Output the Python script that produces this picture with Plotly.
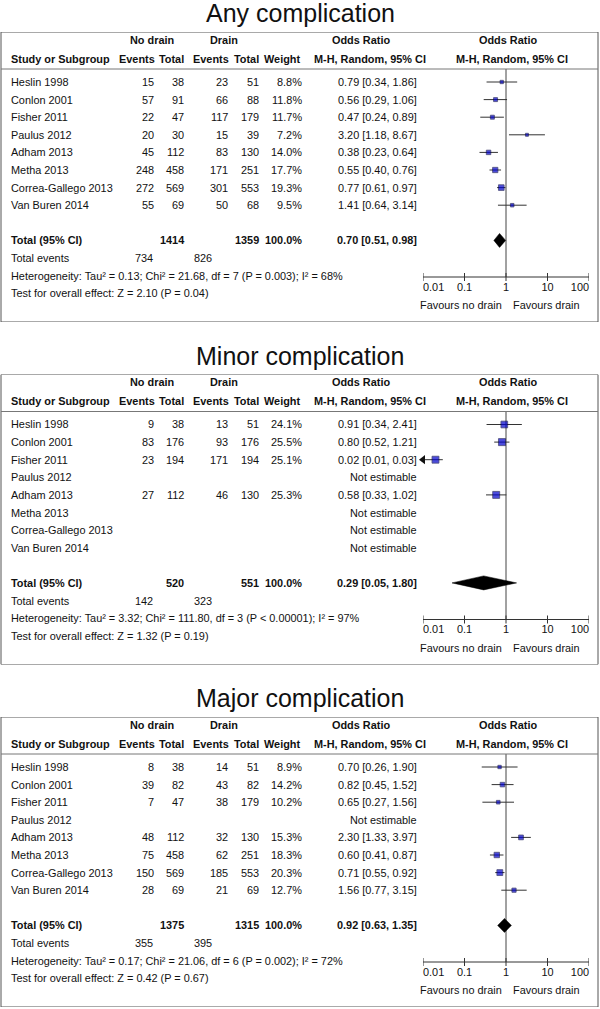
import plotly.graph_objects as go

W, H = 600, 1009

# ---------------- data ----------------
studies = ["Heslin 1998", "Conlon 2001", "Fisher 2011", "Paulus 2012",
           "Adham 2013", "Metha 2013", "Correa-Gallego 2013", "Van Buren 2014"]
titles = ["Any complication", "Minor complication", "Major complication"]

any_nd_events = [15, 57, 22, 20, 45, 248, 272, 55]
any_nd_total = [38, 91, 47, 30, 112, 458, 569, 69]
any_d_events = [23, 66, 117, 15, 83, 171, 301, 50]
any_d_total = [51, 88, 179, 39, 130, 251, 553, 68]
any_weight = [8.8, 11.8, 11.7, 7.2, 14.0, 17.7, 19.3, 9.5]
any_or = [0.79, 0.56, 0.47, 3.20, 0.38, 0.55, 0.77, 1.41]
any_lo = [0.34, 0.29, 0.24, 1.18, 0.23, 0.40, 0.61, 0.64]
any_hi = [1.86, 1.06, 0.89, 8.67, 0.64, 0.76, 0.97, 3.14]

minor_nd_events = [9, 83, 23, None, 27, None, None, None]
minor_nd_total = [38, 176, 194, None, 112, None, None, None]
minor_d_events = [13, 93, 171, None, 46, None, None, None]
minor_d_total = [51, 176, 194, None, 130, None, None, None]
minor_weight = [24.1, 25.5, 25.1, None, 25.3, None, None, None]
minor_or = [0.91, 0.80, 0.02, None, 0.58, None, None, None]
minor_lo = [0.34, 0.52, 0.01, None, 0.33, None, None, None]
minor_hi = [2.41, 1.21, 0.03, None, 1.02, None, None, None]

major_nd_events = [8, 39, 7, None, 48, 75, 150, 28]
major_nd_total = [38, 82, 47, None, 112, 458, 569, 69]
major_d_events = [14, 43, 38, None, 32, 62, 185, 21]
major_d_total = [51, 82, 179, None, 130, 251, 553, 69]
major_weight = [8.9, 14.2, 10.2, None, 15.3, 18.3, 20.3, 12.7]
major_or = [0.70, 0.82, 0.65, None, 2.30, 0.60, 0.71, 1.56]
major_lo = [0.26, 0.45, 0.27, None, 1.33, 0.41, 0.55, 0.77]
major_hi = [1.90, 1.52, 1.56, None, 3.97, 0.87, 0.92, 3.15]

pooled_or = [0.70, 0.29, 0.92]
pooled_lo = [0.51, 0.05, 0.63]
pooled_hi = [0.98, 1.80, 1.35]

heterogeneity = [
    "Heterogeneity: Tau² = 0.13; Chi² = 21.68, df = 7 (P = 0.003); I² = 68%",
    "Heterogeneity: Tau² = 3.32; Chi² = 111.80, df = 3 (P < 0.00001); I² = 97%",
    "Heterogeneity: Tau² = 0.17; Chi² = 21.06, df = 6 (P = 0.002); I² = 72%",
]
overall = [
    "Test for overall effect: Z = 2.10 (P = 0.04)",
    "Test for overall effect: Z = 1.32 (P = 0.19)",
    "Test for overall effect: Z = 0.42 (P = 0.67)",
]

tick_vals = [0.01, 0.1, 1, 10, 100]
tick_labels = ["0.01", "0.1", "1", "10", "100"]

panels = [
    dict(ne=any_nd_events, nt=any_nd_total, de=any_d_events, dt=any_d_total,
         w=any_weight, orr=any_or, lo=any_lo, hi=any_hi),
    dict(ne=minor_nd_events, nt=minor_nd_total, de=minor_d_events, dt=minor_d_total,
         w=minor_weight, orr=minor_or, lo=minor_lo, hi=minor_hi),
    dict(ne=major_nd_events, nt=major_nd_total, de=major_d_events, dt=major_d_total,
         w=major_weight, orr=major_or, lo=major_lo, hi=major_hi),
]

# ---------------- layout constants ----------------
FONT = "Liberation Sans, Arial, Helvetica, sans-serif"
FS = 10.9
ROW = 17.6
BASES = [82, 424.5, 767]
AX_MIN, AX_MAX = 0.01, 100
TXT = "#111111"
LINE = "#333333"
BORDER = "#555555"

fig = go.Figure()
annotations = []
shapes = []
layout_axes = {}


def txt(text, x, r, yref, anchor="left", bold=False, size=FS):
    annotations.append(dict(
        text=f"<b>{text}</b>" if bold else text,
        x=x / W, xref="paper", y=r, yref=yref,
        xanchor=anchor, yanchor="middle", showarrow=False,
        font=dict(family=FONT, size=size, color=TXT)))


for i, p in enumerate(panels):
    base = BASES[i]
    sfx = "" if i == 0 else str(i + 1)
    xa, ya = "x" + sfx, "y" + sfx
    top, bot = base - 50, base + 240
    layout_axes["xaxis" + sfx] = dict(type="log", range=[-2, 2],
                                      domain=[423 / W, 589 / W], anchor=ya,
                                      visible=False, fixedrange=True)
    layout_axes["yaxis" + sfx] = dict(range=[240 / ROW, -50 / ROW],
                                      domain=[1 - bot / H, 1 - top / H], anchor=xa,
                                      visible=False, fixedrange=True)

    # title (paper coordinates, above the box)
    annotations.append(dict(text=titles[i], x=0.5, xref="paper",
                            y=1 - (base - 69) / H, yref="paper",
                            xanchor="center", yanchor="middle", showarrow=False,
                            font=dict(family=FONT, size=25, color=TXT)))

    # box and header line
    shapes.append(dict(type="rect", xref="paper", yref=ya, x0=1 / W, x1=598 / W,
                       y0=-50 / ROW, y1=240 / ROW, line=dict(color=BORDER, width=1)))
    shapes.append(dict(type="line", xref="paper", yref=ya, x0=1 / W, x1=598 / W,
                       y0=-13 / ROW, y1=-13 / ROW, line=dict(color="#777777", width=1)))

    # headers
    h1, h2 = -42 / ROW, -23 / ROW
    txt("No drain", 152, h1, ya, "center", True)
    txt("Drain", 224, h1, ya, "center", True)
    txt("Odds Ratio", 361, h1, ya, "center", True)
    txt("Odds Ratio", 508, h1, ya, "center", True)
    txt("Study or Subgroup", 9, h2, ya, "left", True)
    txt("Events", 157, h2, ya, "right", True)
    txt("Total", 186, h2, ya, "right", True)
    txt("Events", 231, h2, ya, "right", True)
    txt("Total", 261, h2, ya, "right", True)
    txt("Weight", 302, h2, ya, "right", True)
    txt("M-H, Random, 95% CI", 370, h2, ya, "center", True)
    txt("M-H, Random, 95% CI", 512, h2, ya, "center", True)

    # study rows
    for k, name in enumerate(studies):
        txt(name, 9, k, ya, "left")
        if p["orr"][k] is None:
            txt("Not estimable", 419, k, ya, "right")
            continue
        txt(str(p["ne"][k]), 156, k, ya, "right")
        txt(str(p["nt"][k]), 186, k, ya, "right")
        txt(str(p["de"][k]), 230, k, ya, "right")
        txt(str(p["dt"][k]), 261, k, ya, "right")
        txt(f"{p['w'][k]:.1f}%", 304, k, ya, "right")
        txt(f"{p['orr'][k]:.2f} [{p['lo'][k]:.2f}, {p['hi'][k]:.2f}]", 419, k, ya, "right")

    # totals
    nt_sum = sum(v for v in p["nt"] if v is not None)
    dt_sum = sum(v for v in p["dt"] if v is not None)
    ne_sum = sum(v for v in p["ne"] if v is not None)
    de_sum = sum(v for v in p["de"] if v is not None)
    txt("Total (95% CI)", 9, 9, ya, "left", True)
    txt(str(nt_sum), 186, 9, ya, "right", True)
    txt(str(dt_sum), 261, 9, ya, "right", True)
    txt("100.0%", 304, 9, ya, "right", True)
    txt(f"{pooled_or[i]:.2f} [{pooled_lo[i]:.2f}, {pooled_hi[i]:.2f}]", 419, 9, ya, "right", True)
    txt("Total events", 9, 10, ya, "left")
    txt(str(ne_sum), 155, 10, ya, "right")
    txt(str(de_sum), 214, 10, ya, "right")
    txt(heterogeneity[i], 9, 11, ya, "left")
    txt(overall[i], 9, 12, ya, "left")

    # reference line at OR = 1
    fig.add_trace(go.Scatter(x=[1, 1], y=[-13 / ROW, 195 / ROW], mode="lines",
                             line=dict(color="#444444", width=1), xaxis=xa, yaxis=ya,
                             hoverinfo="skip", showlegend=False))
    # axis line & ticks
    fig.add_trace(go.Scatter(x=[AX_MIN, AX_MAX], y=[195 / ROW] * 2, mode="lines",
                             line=dict(color=LINE, width=1), xaxis=xa, yaxis=ya,
                             hoverinfo="skip", showlegend=False, cliponaxis=False))
    tx, ty = [], []
    for tv in tick_vals:
        tx += [tv, tv, None]
        ty += [191 / ROW, 199 / ROW, None]
    fig.add_trace(go.Scatter(x=tx, y=ty, mode="lines", line=dict(color=LINE, width=1),
                             xaxis=xa, yaxis=ya, hoverinfo="skip", showlegend=False,
                             cliponaxis=False))
    fig.add_trace(go.Scatter(x=tick_vals, y=[206 / ROW] * len(tick_vals), mode="text",
                             text=tick_labels,
                             textposition=["middle right", "middle center", "middle center",
                                           "middle center", "middle left"],
                             textfont=dict(family=FONT, size=FS, color=TXT),
                             xaxis=xa, yaxis=ya, hoverinfo="skip", showlegend=False,
                             cliponaxis=False))
    txt("Favours no drain", 504, 223 / ROW, ya, "right")
    txt("Favours drain", 511, 223 / ROW, ya, "left")

    # CI lines
    cx, cy = [], []
    arrows_x, arrows_y = [], []
    for k in range(len(studies)):
        if p["orr"][k] is None:
            continue
        lo = max(p["lo"][k], AX_MIN)
        hi = min(p["hi"][k], AX_MAX)
        cx += [lo, hi, None]
        cy += [k, k, None]
        if p["lo"][k] <= AX_MIN:
            arrows_x.append(lo)
            arrows_y.append(k)
    fig.add_trace(go.Scatter(x=cx, y=cy, mode="lines", line=dict(color=LINE, width=1),
                             xaxis=xa, yaxis=ya, hoverinfo="skip", showlegend=False))
    if arrows_x:
        fig.add_trace(go.Scatter(x=arrows_x, y=arrows_y, mode="markers",
                                 marker=dict(symbol="triangle-left", size=8, color="#111111",
                                             line=dict(width=0)),
                                 xaxis=xa, yaxis=ya, hoverinfo="skip", showlegend=False,
                                 cliponaxis=False))
    # squares
    sx, sy, ss = [], [], []
    for k in range(len(studies)):
        if p["orr"][k] is None:
            continue
        sx.append(p["orr"][k])
        sy.append(k)
        ss.append(1.4 + 0.22 * p["w"][k])
    fig.add_trace(go.Scatter(x=sx, y=sy, mode="markers",
                             marker=dict(symbol="square", size=ss, color="#0000CC",
                                         line=dict(color="#000040", width=0.8)),
                             xaxis=xa, yaxis=ya, hoverinfo="skip", showlegend=False,
                             cliponaxis=False))
    # pooled diamond
    d = 7 / ROW
    fig.add_trace(go.Scatter(x=[pooled_lo[i], pooled_or[i], pooled_hi[i], pooled_or[i], pooled_lo[i]],
                             y=[9, 9 - d, 9, 9 + d, 9], mode="lines", fill="toself",
                             fillcolor="#000000", line=dict(color="#000000", width=0.5),
                             xaxis=xa, yaxis=ya, hoverinfo="skip", showlegend=False))

fig.update_layout(
    width=W, height=H,
    margin=dict(l=0, r=0, t=0, b=0),
    paper_bgcolor="white", plot_bgcolor="rgba(0,0,0,0)",
    showlegend=False,
    annotations=annotations,
    shapes=shapes,
    **layout_axes,
)

fig.write_html("out.html",
               config={"displayModeBar": False, "staticPlot": True},
               post_script="document.body.style.margin='0';"
                           "document.body.style.overflow='hidden';")
